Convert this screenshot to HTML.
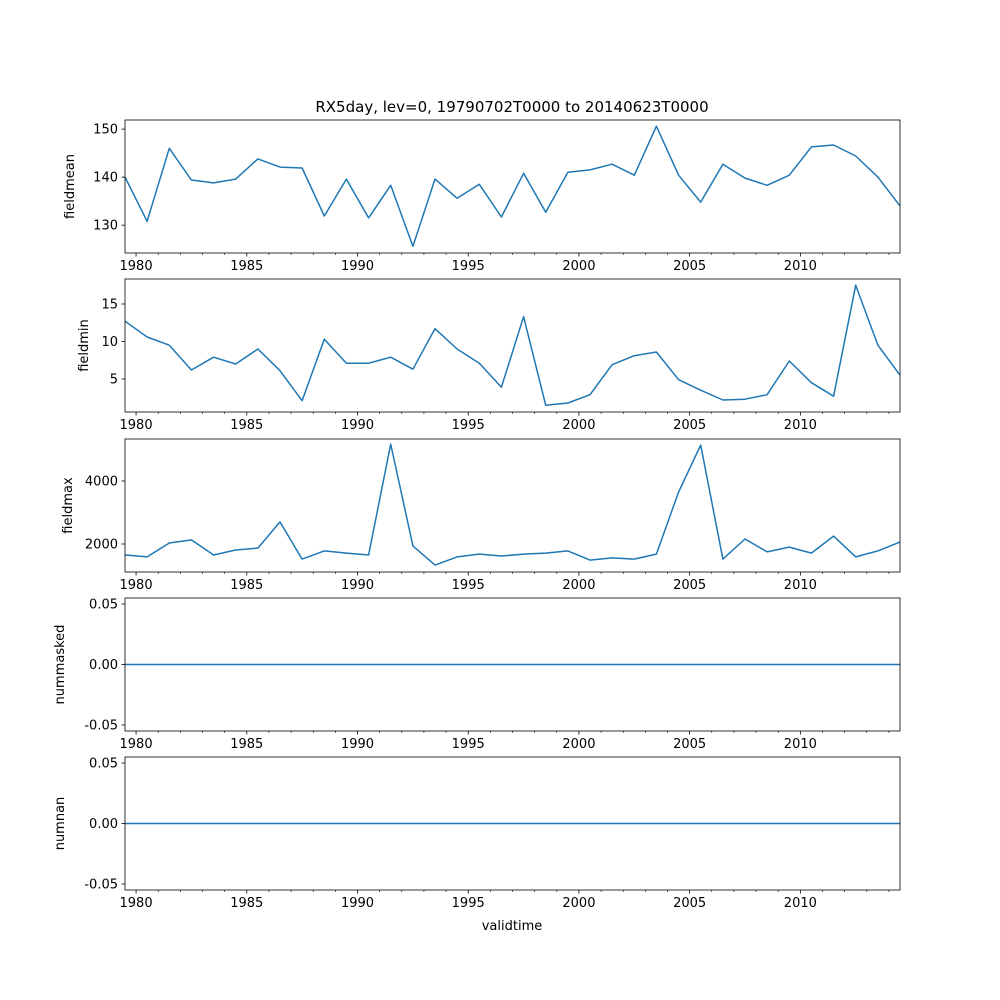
<!DOCTYPE html>
<html><head><meta charset="utf-8"><style>
body{margin:0;background:#fff}
svg{display:block;font-family:"DejaVu Sans","Liberation Sans",sans-serif}
</style></head><body>
<svg id="c" width="1000" height="1000"></svg>
<script>
const years = [1979.5,1980.5,1981.5,1982.5,1983.5,1984.5,1985.5,1986.5,1987.5,1988.5,1989.5,1990.5,1991.5,1992.5,1993.5,1994.5,1995.5,1996.5,1997.5,1998.5,1999.5,2000.5,2001.5,2002.5,2003.5,2004.5,2005.5,2006.5,2007.5,2008.5,2009.5,2010.5,2011.5,2012.5,2013.5,2014.5];
const fieldmean = [140.0,130.8,146.0,139.4,138.8,139.6,143.8,142.1,141.9,131.9,139.6,131.5,138.3,125.6,139.6,135.6,138.5,131.7,140.8,132.7,141.0,141.5,142.7,140.4,150.6,140.4,134.8,142.7,139.8,138.3,140.4,146.3,146.7,144.4,140.0,134.0];
const fieldmin = [12.7,10.6,9.5,6.2,7.9,7.0,9.0,6.1,2.1,10.3,7.1,7.1,7.9,6.3,11.7,9.0,7.1,3.9,13.3,1.5,1.8,2.9,6.9,8.1,8.6,4.9,3.5,2.2,2.3,2.9,7.4,4.5,2.7,17.5,9.5,5.5];
const fieldmax = [1650,1590,2030,2130,1650,1810,1870,2700,1520,1780,1710,1650,5170,1940,1330,1590,1680,1620,1680,1710,1780,1490,1560,1520,1680,3650,5140,1520,2160,1750,1900,1710,2250,1590,1780,2060];
const nummasked = years.map(()=>0);
const numnan = years.map(()=>0);
const yticks1=[130,140,150], yticks2=[5,10,15], yticks3=[2000,4000], yticks4=[-0.05,0,0.05];
const xticks=[1980,1985,1990,1995,2000,2005,2010];

const svg=document.getElementById('c');
const NS='http://www.w3.org/2000/svg';
function el(tag,attrs,parent){const e=document.createElementNS(NS,tag);for(const k in attrs)e.setAttribute(k,attrs[k]);(parent||svg).appendChild(e);return e;}
const L=125,R=900;
const X=v=>L+(v-1979.5)/35*(R-L);
const panels=[
 {name:'fieldmean',data:fieldmean,top:120,bot:253,y0:124.2,y1:151.9,ticks:yticks1,fmt:v=>String(v),lx:74},
 {name:'fieldmin',data:fieldmin,top:279,bot:412,y0:0.6,y1:18.33,ticks:yticks2,fmt:v=>String(v),lx:88},
 {name:'fieldmax',data:fieldmax,top:439,bot:572,y0:1111,y1:5333,ticks:yticks3,fmt:v=>String(v),lx:72},
 {name:'nummasked',data:nummasked,top:598,bot:731,y0:-0.055,y1:0.055,ticks:yticks4,fmt:v=>v.toFixed(2),lx:64},
 {name:'numnan',data:numnan,top:757,bot:890,y0:-0.055,y1:0.055,ticks:yticks4,fmt:v=>v.toFixed(2),lx:64}
];
panels.forEach(p=>{
 const g=el('g',{});
 
 
 const Y=v=>p.bot-(v-p.y0)/(p.y1-p.y0)*(p.bot-p.top);
 const pts=p.data.map((v,i)=>X(years[i]).toFixed(1)+','+Y(v).toFixed(1)).join(' ');
 const line=el('polyline',{points:pts,fill:'none',stroke:'#1f77b4','stroke-width':1.5,'stroke-linejoin':'round'},g);
 
 
 const fr=el('rect',{x:L,y:p.top,width:R-L,height:p.bot-p.top,fill:'none',stroke:'#000','stroke-width':0.8},g);
 
 
 for(let yr=1980;yr<=2014;yr++){
  const maj=xticks.includes(yr);
  el('line',{x1:X(yr),x2:X(yr),y1:p.bot,y2:p.bot+(maj?3.5:2),stroke:'#000','stroke-width':maj?0.8:0.6},g);
 }
 xticks.forEach(t=>{
  const tx=el('text',{x:X(t),y:p.bot+17,'font-size':13,'text-anchor':'middle',fill:'#000'},g);
  tx.textContent=t;
  
  
 });
 p.ticks.forEach(t=>{
  const y=Y(t);
  el('line',{x1:L-3.5,x2:L,y1:y,y2:y,stroke:'#000','stroke-width':0.8},g);
  const tx=el('text',{x:L-7,y:y+4.5,'font-size':13,'text-anchor':'end',fill:'#000'},g);
  tx.textContent=p.fmt(t);
  
  
 });
 const yl=el('text',{x:p.lx,y:(p.top+p.bot)/2,'font-size':13,'text-anchor':'middle',transform:`rotate(-90 ${p.lx} ${(p.top+p.bot)/2})`,fill:'#000'},g);
 yl.textContent=p.name;
 
 
});
const title=el('text',{x:512,y:112,'font-size':15,'text-anchor':'middle',fill:'#000'});
title.textContent='RX5day, lev=0, 19790702T0000 to 20140623T0000';


const xl=el('text',{x:512,y:930,'font-size':13,'text-anchor':'middle',fill:'#000'});
xl.textContent='validtime';


</script>
</body></html>
